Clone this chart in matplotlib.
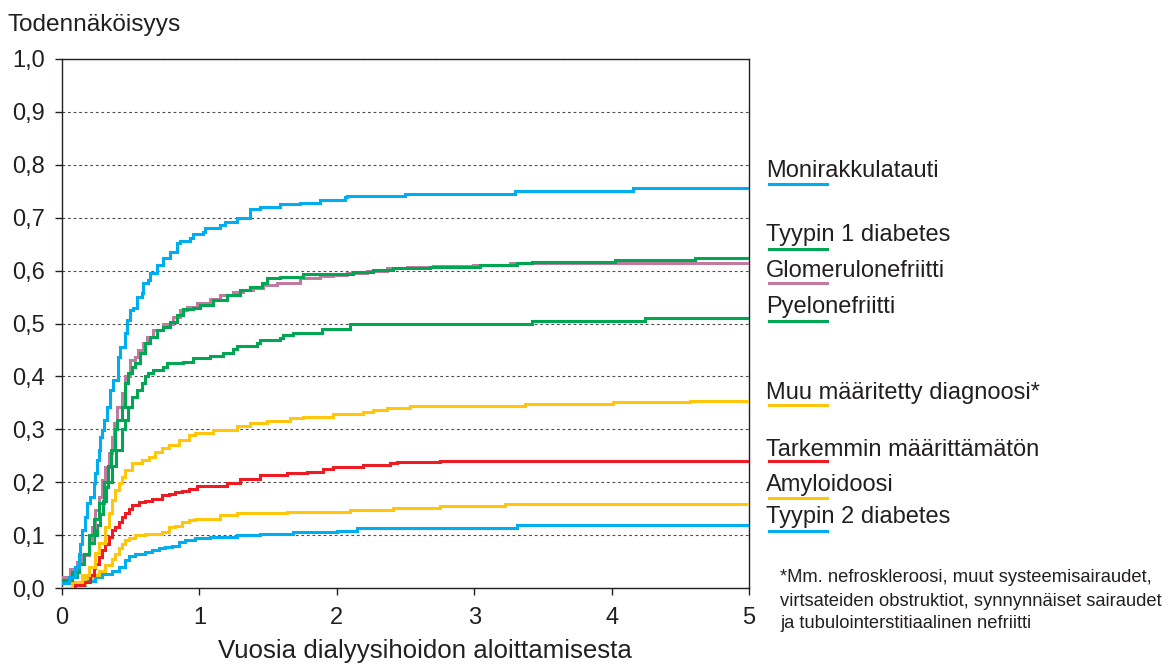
import numpy as np
import matplotlib
matplotlib.use("Agg")
import matplotlib.pyplot as plt
from matplotlib.lines import Line2D
from matplotlib.ticker import FuncFormatter

plt.rcParams['font.family'] = ['Liberation Sans', 'DejaVu Sans']

# Cumulative probability curves (years since start of dialysis, probability).
# Each series is a step function; the value holds until the next time point.
moni_t = [0, .049, .097, .122, .133, .146, .170, .182, .206, .231, .242, .255, .267, .279, .291, .303,
          .328, .349, .371, .408, .422, .459, .473, .495, .517, .546, .582, .590, .626, .640, .691, .735,
          .786, .837, .859, .932, .953, 1.026, 1.041, 1.150, 1.186, 1.274, 1.368, 1.441, 1.587, 1.732,
          1.878, 2.060, 2.074, 2.496, 3.297, 4.156]
moni_v = [.01, .02, .039, .065, .084, .109, .134, .16, .172, .198, .217, .242, .26, .286, .298, .317,
          .342, .374, .393, .437, .456, .482, .507, .526, .53, .55, .558, .577, .582, .595, .61, .624,
          .635, .652, .656, .662, .669, .673, .68, .686, .692, .70, .716, .72, .726, .728,
          .733, .739, .741, .745, .750, .757]

t1d_t = [0, .073, .122, .160, .197, .233, .269, .303, .335, .357, .388, .400, .437, .459, .480, .509,
         .531, .568, .604, .640, .691, .735, .786, .837, .881, .953, 1.004, 1.099, 1.201, 1.295, 1.368,
         1.456, 1.492, 1.587, 1.754, 2.118, 2.263, 2.409, 2.678, 3.042, 3.311, 3.421, 4.025, 4.607]
t1d_v = [.015, .03, .046, .065, .1, .13, .16, .2, .23, .26, .3, .317, .342, .387, .406, .418,
         .425, .444, .463, .475, .488, .493, .503, .516, .527, .529, .535, .544, .554, .563, .569,
         .577, .586, .588, .594, .597, .601, .605, .607, .611, .614, .616, .62, .624]

glom_t = [0, .058, .109, .146, .194, .218, .242, .267, .291, .315, .340, .364, .376, .400, .437, .459,
          .495, .531, .553, .590, .619, .662, .735, .808, .859, .910, .983, 1.077, 1.150, 1.245, 1.317,
          1.390, 1.463, 1.565, 1.732, 1.878, 1.972, 2.074, 2.220, 2.365, 2.511, 2.700, 2.991, 3.260]
glom_v = [.02, .035, .05, .062, .09, .115, .147, .172, .204, .229, .255, .286, .311, .342, .368, .40,
          .431, .437, .45, .463, .475, .488, .50, .512, .526, .531, .539, .546, .554, .56, .563,
          .567, .573, .577, .586, .59, .592, .595, .599, .605, .607, .609, .611, .614]

pyelo_t = [0, .036, .109, .160, .197, .231, .255, .277, .298, .320, .335, .364, .393, .437, .459, .480,
           .509, .546, .582, .604, .626, .662, .735, .764, .881, .953, 1.077, 1.172, 1.245, 1.274, 1.419,
           1.441, 1.587, 1.608, 1.681, 1.892, 2.096, 3.421, 4.243]
pyelo_v = [.01, .021, .045, .065, .085, .1, .12, .14, .165, .19, .2, .23, .26, .3, .317, .342,
           .361, .374, .387, .40, .406, .412, .418, .425, .427, .434, .438, .444, .452, .457, .463,
           .469, .473, .478, .482, .49, .499, .505, .51]

muu_t = [0, .073, .146, .194, .242, .267, .315, .340, .364, .388, .413, .437, .461, .509, .582, .631,
         .679, .728, .776, .849, .922, .970, 1.099, 1.274, 1.368, 1.492, 1.659, 1.754, 1.972, 2.191,
         2.264, 2.365, 2.533, 3.370, 4.010, 4.571]
muu_v = [0, .012, .025, .04, .066, .085, .115, .141, .166, .185, .198, .21, .223, .236, .242, .248,
         .257, .264, .27, .279, .289, .293, .299, .306, .312, .316, .321, .323, .329, .333,
         .336, .34, .344, .348, .352, .354]

tark_t = [0, .095, .160, .204, .231, .242, .267, .291, .315, .340, .364, .388, .413, .437, .461, .485,
          .509, .558, .606, .655, .728, .776, .825, .873, .922, .983, 1.201, 1.295, 1.441, 1.638, 1.783,
          1.900, 1.972, 2.191, 2.387, 2.438, 2.751]
tark_v = [0, .005, .012, .025, .037, .046, .058, .071, .084, .096, .109, .115, .124, .134, .141, .15,
          .156, .162, .165, .169, .175, .178, .181, .184, .188, .193, .198, .206, .214, .217, .219,
          .225, .229, .233, .236, .238, .24]

amyl_t = [0, .095, .167, .218, .267, .315, .364, .388, .413, .437, .461, .485, .533, .606, .728, .776,
          .825, .873, .922, .970, 1.150, 1.274, 1.638, 2.096, 2.409, 2.751, 3.224]
amyl_v = [0, .008, .018, .024, .033, .043, .055, .065, .075, .084, .09, .094, .10, .103, .106, .115,
          .118, .124, .128, .131, .138, .142, .144, .147, .151, .155, .159]

t2d_t = [0, .097, .170, .242, .291, .364, .413, .461, .485, .533, .606, .655, .704, .752, .801, .849,
         .898, .970, 1.077, 1.274, 1.441, 1.681, 2.001, 2.147, 3.311]
t2d_v = [0, .005, .014, .02, .027, .033, .039, .052, .061, .065, .068, .071, .075, .077, .08, .087,
         .09, .094, .096, .10, .102, .106, .108, .114, .119]

names = ["Monirakkulatauti", "Tyypin 1 diabetes", "Glomerulonefriitti", "Pyelonefriitti",
         "Muu määritetty diagnoosi*", "Tarkemmin määrittämätön", "Amyloidoosi", "Tyypin 2 diabetes"]
times = [moni_t, t1d_t, glom_t, pyelo_t, muu_t, tark_t, amyl_t, t2d_t]
values = [moni_v, t1d_v, glom_v, pyelo_v, muu_v, tark_v, amyl_v, t2d_v]

BLUE, GREEN, PINK, RED, YELLOW = "#00aeef", "#00a651", "#c27ba0", "#ed1c24", "#ffc60b"
colors = [BLUE, GREEN, PINK, GREEN, YELLOW, RED, YELLOW, BLUE]

y_ticks = np.arange(0, 1.01, 0.1)
x_ticks = [0, 1, 2, 3, 4, 5]

footnote = ["*Mm. nefroskleroosi, muut systeemisairaudet,",
            "virtsateiden obstruktiot, synnynnäiset sairaudet",
            "ja tubulointerstitiaalinen nefriitti"]

# ---------------------------------------------------------------- figure
W, H = 1170, 666
fig = plt.figure(figsize=(W / 100, H / 100), dpi=100)
ax = fig.add_axes([62 / W, 1 - 588 / H, 687 / W, 529 / H])

draw_order = [7, 6, 5, 4, 3, 2, 1, 0]
for i in draw_order:
    t = list(times[i]) + [5]
    v = list(values[i]) + [values[i][-1]]
    ax.step(t, v, where="post", color=colors[i], lw=2.2, solid_joinstyle="miter", zorder=3)

ax.set_xlim(0, 5)
ax.set_ylim(0, 1)
ax.set_xticks(x_ticks)
ax.set_yticks(y_ticks)
ax.xaxis.set_major_formatter(FuncFormatter(lambda x, p: f"{x:.0f}"))
ax.yaxis.set_major_formatter(FuncFormatter(lambda y, p: f"{y:.1f}".replace(".", ",")))
ax.tick_params(axis="both", direction="out", length=5, width=1, color="#231f20",
               labelsize=17, labelcolor="#231f20")
ax.tick_params(axis="x", pad=9)
ax.tick_params(axis="y", pad=7)

ax.set_axisbelow(True)
ax.yaxis.grid(True, color="#4d4d4d", lw=0.8, linestyle=(0, (2.5, 2.5)))
for s in ax.spines.values():
    s.set_color("#231f20")
    s.set_linewidth(1.0)

fig.text(8 / W, 1 - 31 / H, "Todennäköisyys", fontsize=17.6, color="#231f20", va="baseline")
fig.text(425 / W, 1 - 658 / H, "Vuosia dialyysihoidon aloittamisesta", fontsize=18.6,
         color="#231f20", ha="center", va="baseline")

# Right-hand labels with a coloured underline below each
label_base = [177, 241, 277, 313, 399, 456, 491, 523]
label_line = [184, 249, 283, 321, 405, 461, 498, 531]
for name, c, yb, yl in zip(names, colors, label_base, label_line):
    fig.text(766 / W, 1 - yb / H, name, fontsize=17, color="#231f20", va="baseline")
    fig.add_artist(Line2D([769 / W, 827 / W], [1 - yl / H, 1 - yl / H], color=c, lw=2.2,
                          transform=fig.transFigure))

for k, line in enumerate(footnote):
    fig.text(780 / W, 1 - (578 + 23 * k) / H, line, fontsize=13.2, color="#231f20", va="center")

fig.savefig("out.png", dpi=100)
